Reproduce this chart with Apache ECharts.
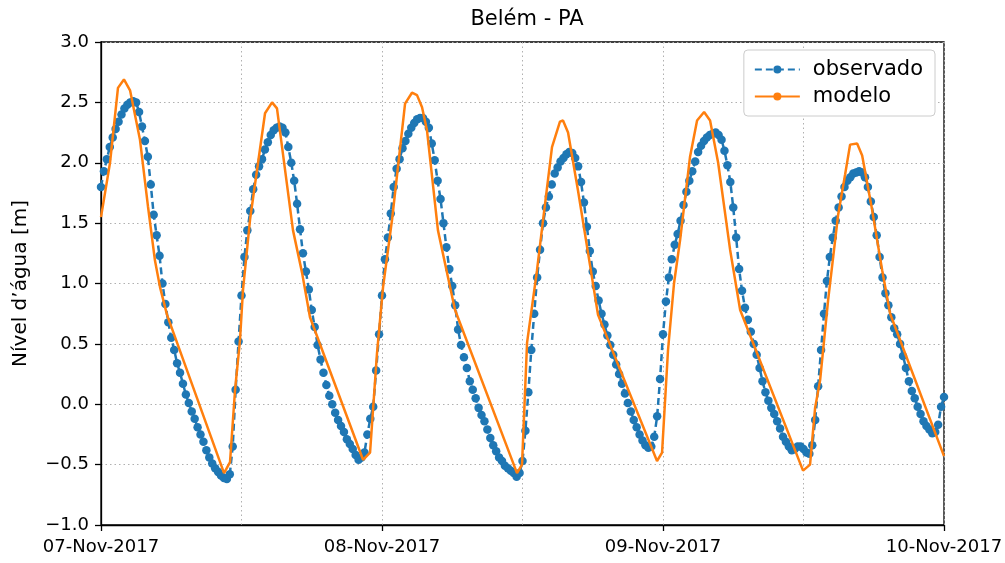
<!DOCTYPE html>
<html>
<head>
<meta charset="utf-8">
<script src="https://cdn.jsdelivr.net/npm/echarts@6/dist/echarts.min.js"></script>
<style>html,body{margin:0;padding:0;background:#fff}#c{width:1005px;height:563px}</style>
</head>
<body>
<div id="c"></div>
<script>
// ---- data ----
const titleText = 'Belém - PA';
const yAxisName = 'Nível d’água [m]';
const seriesNames = ['observado', 'modelo'];
const xTickLabels = ['07-Nov-2017', '08-Nov-2017', '09-Nov-2017', '10-Nov-2017'];
const yTickValues = [-1.0, -0.5, 0.0, 0.5, 1.0, 1.5, 2.0, 2.5, 3.0];
const startDate = Date.UTC(2017, 10, 7, 0, 0, 0);
const observedStepMinutes = 15;
// observed water level, every 15 min from 07-Nov-2017 00:00
const observedValues = [
  1.80,1.93,2.03,2.13,2.21,2.28,2.34,2.40,2.45,2.48,
  2.50,2.51,2.50,2.42,2.30,2.18,2.05,1.82,1.57,1.40,
  1.23,1.00,0.83,0.68,0.55,0.45,0.34,0.26,0.17,0.08,
  0.01,-0.06,-0.12,-0.19,-0.25,-0.31,-0.38,-0.44,-0.49,-0.53,
  -0.56,-0.59,-0.61,-0.62,-0.58,-0.35,0.12,0.52,0.90,1.22,
  1.44,1.60,1.78,1.90,1.97,2.03,2.11,2.17,2.23,2.27,
  2.29,2.30,2.29,2.25,2.13,2.00,1.85,1.66,1.45,1.25,
  1.10,0.95,0.78,0.64,0.49,0.37,0.26,0.16,0.07,0.00,
  -0.07,-0.13,-0.18,-0.23,-0.29,-0.33,-0.37,-0.42,-0.46,-0.44,
  -0.40,-0.25,-0.12,-0.02,0.28,0.58,0.90,1.20,1.38,1.58,
  1.80,1.95,2.03,2.12,2.18,2.24,2.29,2.33,2.36,2.37,
  2.37,2.34,2.29,2.16,2.02,1.85,1.70,1.50,1.30,1.12,
  0.98,0.82,0.62,0.49,0.39,0.30,0.19,0.12,0.05,-0.03,
  -0.09,-0.14,-0.21,-0.28,-0.34,-0.39,-0.44,-0.47,-0.51,-0.53,
  -0.55,-0.57,-0.60,-0.57,-0.47,-0.22,0.10,0.45,0.75,1.05,
  1.28,1.50,1.63,1.72,1.82,1.91,1.96,2.01,2.04,2.07,
  2.09,2.08,2.04,1.97,1.84,1.67,1.47,1.27,1.10,0.98,
  0.86,0.75,0.66,0.57,0.49,0.41,0.33,0.25,0.17,0.09,
  0.01,-0.06,-0.13,-0.19,-0.25,-0.30,-0.34,-0.36,-0.35,-0.27,
  -0.10,0.21,0.58,0.85,1.05,1.20,1.32,1.41,1.52,1.65,
  1.76,1.85,1.93,2.01,2.09,2.14,2.18,2.21,2.23,2.24,
  2.25,2.23,2.19,2.10,1.98,1.84,1.63,1.38,1.12,0.94,
  0.80,0.70,0.60,0.50,0.41,0.30,0.19,0.10,0.03,-0.03,
  -0.08,-0.14,-0.20,-0.27,-0.31,-0.35,-0.38,-0.37,-0.35,-0.35,
  -0.37,-0.40,-0.41,-0.34,-0.13,0.15,0.45,0.75,1.02,1.22,
  1.38,1.52,1.63,1.72,1.80,1.85,1.88,1.91,1.92,1.93,
  1.92,1.88,1.80,1.68,1.55,1.40,1.22,1.05,0.92,0.82,
  0.72,0.63,0.58,0.50,0.40,0.30,0.19,0.11,0.05,-0.02,
  -0.08,-0.14,-0.18,-0.21,-0.24,-0.23,-0.17,-0.02,0.06
];
// model: hours since 07-Nov-2017 00:00 and level
const modelHours = [
  0,0.77,1.45,1.96,2.48,3.33,4.01,4.61,5.04,5.64,
  10.51,11.02,11.45,11.87,12.13,12.73,14.01,14.61,15.03,16.40,
  17.17,17.85,22.38,22.98,23.57,24.09,24.86,25.97,26.56,26.99,
  27.42,27.84,28.78,29.64,30.24,35.53,35.96,36.39,37.24,37.75,
  38.52,39.20,39.46,39.89,40.74,41.77,42.45,47.49,47.92,48.43,
  48.94,49.46,50.31,50.91,51.51,52.02,52.71,53.73,54.59,59.96,
  60.56,60.99,61.42,62.10,62.96,63.55,63.98,64.58,65.01,65.86,
  66.72,67.40,72.00
];
const modelValues = [
  1.55,2.00,2.62,2.69,2.60,2.19,1.64,1.19,0.97,0.74,
  -0.57,-0.48,0.12,0.53,0.95,1.53,2.41,2.50,2.45,1.44,
  1.09,0.72,-0.46,-0.40,0.42,0.97,1.53,2.49,2.58,2.56,
  2.46,2.27,1.44,1.05,0.78,-0.57,-0.50,0.51,1.11,1.52,
  2.13,2.34,2.35,2.25,1.77,1.15,0.74,-0.47,-0.40,0.45,
  1.00,1.36,2.05,2.35,2.42,2.35,2.00,1.28,0.78,-0.55,
  -0.50,-0.03,0.20,0.86,1.57,1.90,2.15,2.16,2.06,1.61,
  1.11,0.75,-0.43
];
// ---- build ----
const HOUR = 3600 * 1000;
const obsData = observedValues.map((v, i) => [startDate + i * observedStepMinutes * 60 * 1000, v]);
const modelData = modelHours.map((h, i) => [startDate + h * HOUR, modelValues[i]]);
const FONT = 'DejaVu Sans';
const chart = echarts.init(document.getElementById('c'), null, {renderer: 'canvas'});
const gridLine = {show: true, lineStyle: {color: '#b0b0b0', type: [1.5, 3], width: 1}};
chart.setOption({
  animation: false,
  backgroundColor: '#fff',
  textStyle: {fontFamily: FONT},
  title: {text: titleText, left: 522, top: 4, textAlign: 'center',
    textStyle: {fontFamily: FONT, fontSize: 21, fontWeight: 'normal', color: '#000'}},
  legend: {
    data: seriesNames, orient: 'vertical', right: 70, top: 50,
    itemWidth: 45, itemHeight: 10, itemGap: 6,
    padding: [9, 12, 9, 10],
    borderColor: '#cccccc', borderWidth: 1, borderRadius: 4,
    backgroundColor: '#fff',
    textStyle: {fontFamily: FONT, fontSize: 21, color: '#000', padding: [0, 0, 0, 8]}
  },
  grid: {left: 101, right: 61, top: 42, bottom: 38, show: true, borderColor: '#000', borderWidth: 1.3,
    backgroundColor: 'transparent', containLabel: false, outerBoundsMode: 'none'},
  xAxis: [{
    type: 'value', min: startDate, max: startDate + 72 * HOUR, interval: 12 * HOUR,
    position: 'top', axisLine: {show: false}, axisTick: {show: false}, axisLabel: {show: false},
    splitLine: gridLine
  }, {
    type: 'value', min: startDate, max: startDate + 72 * HOUR, interval: 24 * HOUR,
    position: 'bottom',
    axisLine: {show: true, lineStyle: {color: '#000', width: 1.3}},
    axisTick: {show: true, length: 6, lineStyle: {color: '#000', width: 1.3}},
    splitLine: {show: false},
    axisLabel: {color: '#000', fontSize: 18, fontFamily: FONT, margin: 13,
      formatter: v => xTickLabels[Math.round((v - startDate) / (24 * HOUR))] || ''}
  }],
  yAxis: {
    type: 'value', min: yTickValues[0], max: yTickValues[yTickValues.length - 1], interval: 0.5,
    name: yAxisName, nameLocation: 'middle', nameGap: 70, nameRotate: 90,
    nameTextStyle: {fontFamily: FONT, fontSize: 20, color: '#000'},
    axisLine: {show: true, lineStyle: {color: '#000', width: 1.3}},
    axisTick: {show: true, length: 6, lineStyle: {color: '#000', width: 1.3}},
    axisLabel: {color: '#000', fontSize: 18, fontFamily: FONT, margin: 12,
      formatter: v => v.toFixed(1).replace('-', '\u2212')},
    splitLine: gridLine
  },
  series: [{
    name: seriesNames[0], type: 'line', xAxisIndex: 0, data: obsData,
    symbol: 'circle', symbolSize: 8.5, showSymbol: true,
    itemStyle: {color: '#1f77b4'},
    lineStyle: {color: '#1f77b4', width: 2.5, type: [7, 4]},
    z: 2
  }, {
    name: seriesNames[1], type: 'line', xAxisIndex: 0, data: modelData,
    symbol: 'none', showSymbol: false,
    itemStyle: {color: '#ff7f0e'},
    lineStyle: {color: '#ff7f0e', width: 2.5},
    z: 3
  }]
});
</script>
</body>
</html>
